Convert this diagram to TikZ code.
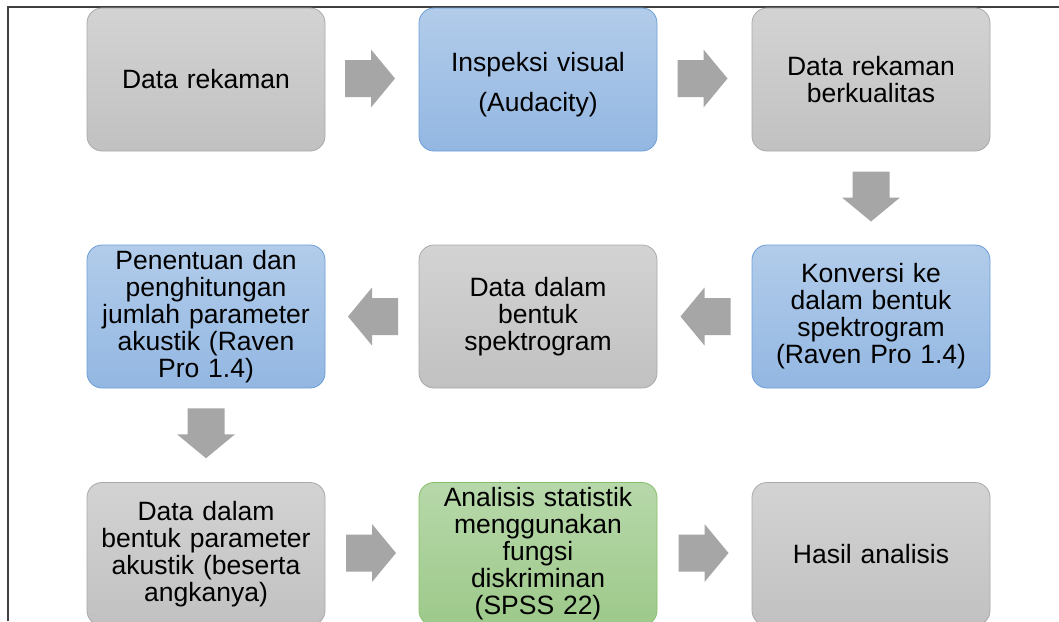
\documentclass[tikz,border=0pt]{standalone}
\usepackage{fontspec}
\setmainfont{Liberation Sans}
\usetikzlibrary{calc}
\definecolor{grayTop}{HTML}{D3D3D3}
\definecolor{grayBot}{HTML}{C1C1C1}
\definecolor{grayLine}{HTML}{A9A9A9}
\definecolor{blueTop}{HTML}{B2CCEA}
\definecolor{blueBot}{HTML}{93B7E2}
\definecolor{blueLine}{HTML}{6C9FD8}
\definecolor{greenTop}{HTML}{B7D8AA}
\definecolor{greenBot}{HTML}{9DC98A}
\definecolor{greenLine}{HTML}{86BF68}
\definecolor{arrowGray}{HTML}{A6A6A6}
\definecolor{frameGray}{HTML}{404040}
\tikzset{
  box/.style={draw, rounded corners=15pt, minimum width=238pt, minimum height=143pt,
    text width=234pt, align=center, inner sep=0pt, line width=0.8pt,
    font=\fontsize{26.5}{27}\selectfont},
  graybox/.style={box, draw=grayLine, top color=grayTop, bottom color=grayBot},
  bluebox/.style={box, draw=blueLine, top color=blueTop, bottom color=blueBot},
  greenbox/.style={box, draw=greenLine, top color=greenTop, bottom color=greenBot},
  blockarrow/.pic={\fill[arrowGray] (-25,-18.5) -- (1,-18.5) -- (1,-29) -- (25,0) -- (1,29) -- (1,18.5) -- (-25,18.5) -- cycle;}
}
\begin{document}
\begin{tikzpicture}[x=1pt,y=-1pt]
\useasboundingbox (0,0) rectangle (1059,621);
\clip (0,0) rectangle (1059,621);
\fill[white] (0,0) rectangle (1059,621);
\draw[frameGray, line width=1.8pt] (8,621) -- (8,7) -- (1059,7);

% row 1
\node[graybox] (a) at (206,79.5) {Data rekaman};
\node[bluebox] (b) at (538,79.5) {\rule{0pt}{30pt}Inspeksi visual\\[13pt](Audacity)};
\node[graybox] (c) at (871,79.5) {Data rekaman\\berkualitas};
% row 2
\node[bluebox] (d) at (871,316.5) {Konversi ke\\dalam bentuk\\spektrogram\\(Raven Pro 1.4)};
\node[graybox] (e) at (538,316.5) {Data dalam\\bentuk\\spektrogram};
\node[bluebox] (f) at (206,316.5) {Penentuan dan\\penghitungan\\jumlah parameter\\akustik (Raven\\Pro 1.4)};
% row 3
\node[graybox] (g) at (206,554) {Data dalam\\bentuk parameter\\akustik (beserta\\angkanya)};
\node[greenbox] (h) at (538,554) {Analisis statistik\\menggunakan\\fungsi\\diskriminan\\(SPSS 22)};
\node[graybox] (i) at (871,554) {Hasil analisis};

% connectors (block arrows)
\pic at ($(a.east)!0.5!(b.west)+(-2,-1)$) {blockarrow};
\pic at ($(b.east)!0.5!(c.west)+(-2,-1)$) {blockarrow};
\pic[rotate=-90] at ($(c.south)!0.5!(d.north)+(0,-1.5)$) {blockarrow};
\pic[rotate=180] at ($(d.west)!0.5!(e.east)+(1,0)$) {blockarrow};
\pic[rotate=180] at ($(e.west)!0.5!(f.east)+(1,0)$) {blockarrow};
\pic[rotate=-90] at ($(f.south)!0.5!(g.north)+(0,-2)$) {blockarrow};
\pic at ($(g.east)!0.5!(h.west)+(-1,-1)$) {blockarrow};
\pic at ($(h.east)!0.5!(i.west)+(-1,-1)$) {blockarrow};
\end{tikzpicture}
\end{document}
